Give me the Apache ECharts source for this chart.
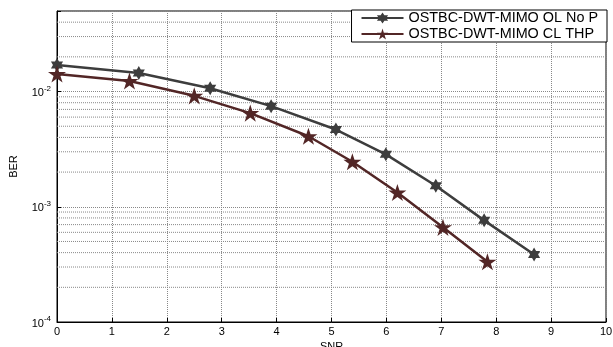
<!DOCTYPE html>
<html><head><meta charset="utf-8">
<script src="https://cdn.jsdelivr.net/npm/echarts@6/dist/echarts.min.js"></script>
<style>html,body{margin:0;padding:0;background:#fff}#c{width:613px;height:347px}</style>
</head><body><div id="c"></div>
<script>
const seriesNames = ['OSTBC-DWT-MIMO OL No P', 'OSTBC-DWT-MIMO CL THP'];
const snrOL = [0, 1.49, 2.79, 3.9, 5.08, 5.99, 6.9, 7.78, 8.69];
const berOL = [0.0170, 0.0145, 0.01067, 0.00747, 0.00468, 0.00285, 0.00152, 0.000762, 0.000386];
const snrCL = [0, 1.32, 2.5, 3.52, 4.58, 5.38, 6.2, 7.03, 7.84];
const berCL = [0.01422, 0.01236, 0.00918, 0.0065, 0.00409, 0.00246, 0.00133, 0.000663, 0.000333];
const xTicks = [0, 10, 1];
const yRange = [1e-4, 0.05];
const minorGrid = [2e-4,3e-4,4e-4,5e-4,6e-4,7e-4,8e-4,9e-4,2e-3,3e-3,4e-3,5e-3,6e-3,7e-3,8e-3,9e-3,2e-2,3e-2,4e-2];

const hexagram = 'path://M0,-10L-2.89,-5L-8.66,-5L-5.77,0L-8.66,5L-2.89,5L0,10L2.89,5L8.66,5L5.77,0L8.66,-5L2.89,-5Z';
const pentagram = 'path://M0,-10L-2.245,-3.09L-9.51,-3.09L-3.633,1.18L-5.878,8.09L0,3.82L5.878,8.09L3.633,1.18L9.51,-3.09L2.245,-3.09Z';
const gridStyle = {color: '#888888', width: 1, type: [1, 1]};

// minor grid lines as broken line segments spanning the x range
const minorData = [];
minorGrid.forEach(v => { minorData.push([xTicks[0], v], [xTicks[1], v], '-'); });

const chart = echarts.init(document.getElementById('c'));
chart.setOption({
  animation: false,
  textStyle: {fontFamily: 'Liberation Sans, Arial, sans-serif'},
  grid: {left: 57, right: 7, top: 11, bottom: 25, outerBoundsMode: 'none', containLabel: false,
         show: true, borderColor: '#000', borderWidth: 1, backgroundColor: '#fff'},
  legend: {
    orient: 'vertical', right: 6, top: 10, itemWidth: 42, itemHeight: 14, itemGap: 2,
    backgroundColor: '#fff', borderColor: '#000', borderWidth: 1, borderRadius: 0,
    padding: [1, 9, 1, 9],
    textStyle: {fontSize: 14.4, color: '#000', fontFamily: 'Liberation Sans, Arial, sans-serif'},
    data: seriesNames
  },
  xAxis: {
    type: 'value', min: xTicks[0], max: xTicks[1], interval: xTicks[2],
    name: 'SNR', nameLocation: 'middle', nameGap: 15,
    nameTextStyle: {fontSize: 11, color: '#000'},
    axisLine: {lineStyle: {color: '#000', width: 1}},
    axisTick: {inside: true, length: 4, lineStyle: {color: '#000'}},
    axisLabel: {fontSize: 11, color: '#000', margin: 4},
    splitLine: {show: true, lineStyle: gridStyle}
  },
  yAxis: {
    type: 'log', logBase: 10, min: yRange[0], max: yRange[1],
    name: 'BER', nameLocation: 'middle', nameGap: 38,
    nameTextStyle: {fontSize: 11, color: '#000'},
    axisLine: {lineStyle: {color: '#000', width: 1}},
    axisTick: {inside: true, length: 4, lineStyle: {color: '#000'}},
    axisLabel: {
      margin: 6, color: '#000',
      formatter: function (v) {
        const l = Math.log10(v);
        if (Math.abs(l - Math.round(l)) > 1e-6) return '';
        return '{b|10}{s|' + Math.round(l) + '}';
      },
      rich: {
        b: {fontSize: 11, color: '#000', verticalAlign: 'bottom'},
        s: {fontSize: 8, color: '#000', verticalAlign: 'top', padding: [0, 0, 6, 0]}
      }
    },
    splitLine: {show: true, lineStyle: gridStyle}
  },
  series: [
    {
      type: 'line', name: '_minor', data: minorData, silent: true, z: 1,
      symbol: 'none', connectNulls: false, lineStyle: gridStyle, legendHoverLink: false
    },
    {
      type: 'line', name: seriesNames[0], z: 3,
      data: snrOL.map((x, i) => [x, berOL[i]]),
      symbol: hexagram, symbolSize: 14, symbolKeepAspect: true,
      lineStyle: {color: '#3d3d3d', width: 2.5},
      itemStyle: {color: '#3d3d3d'}
    },
    {
      type: 'line', name: seriesNames[1], z: 3,
      data: snrCL.map((x, i) => [x, berCL[i]]),
      symbol: pentagram, symbolSize: 18, symbolKeepAspect: true,
      lineStyle: {color: '#522626', width: 2.5},
      itemStyle: {color: '#522626'}
    }
  ]
});
</script></body></html>
